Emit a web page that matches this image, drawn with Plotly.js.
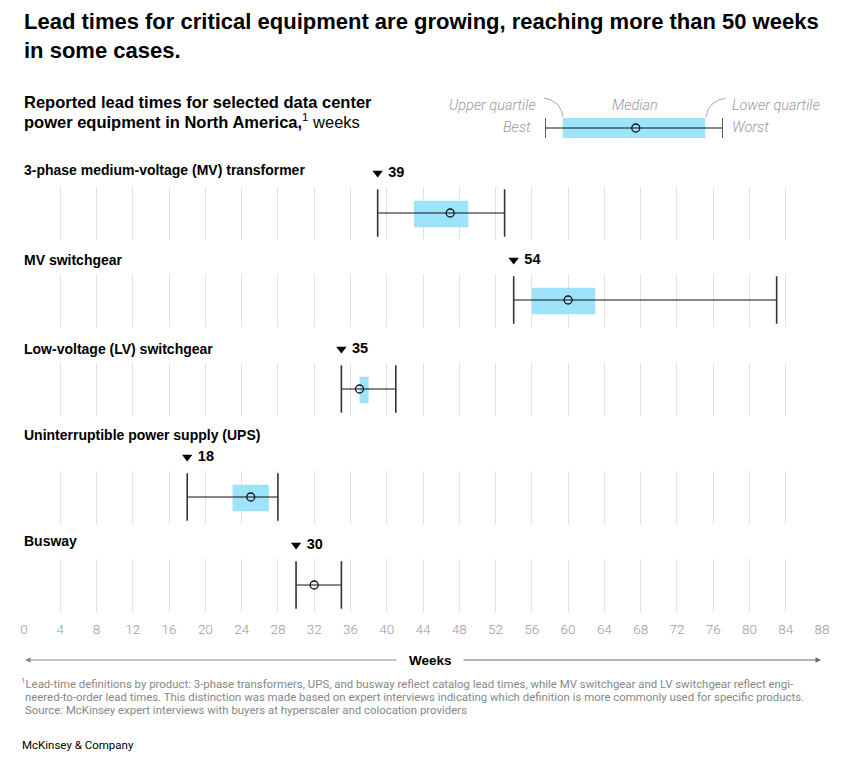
<!DOCTYPE html>
<html>
<head>
<meta charset="utf-8">
<script src="https://cdn.plot.ly/plotly-3.0.1.min.js"></script>
<style>
  html, body { margin: 0; padding: 0; background: #ffffff; }
  #chart { width: 844px; height: 768px; }
</style>
</head>
<body>
<div id="chart"></div>
<script>
// Lead-time distributions, in weeks, for each equipment type
const categories = [
  '3-phase medium-voltage (MV) transformer',
  'MV switchgear',
  'Low-voltage (LV) switchgear',
  'Uninterruptible power supply (UPS)',
  'Busway'
];
const best          = [39, 54, 35, 18, 30];
const upperQuartile = [43, 56, 37, 23, null];
const median        = [47, 60, 37, 25, 32];
const lowerQuartile = [49, 63, 38, 27, null];
const worst         = [53, 83, 41, 28, 35];

// Week axis ticks
const weekTicks = [0, 4, 8, 12, 16, 20, 24, 28, 32, 36, 40, 44, 48, 52, 56, 60, 64, 68, 72, 76, 80, 84, 88];

// Key sample: best, upper quartile, median, lower quartile, worst (relative units)
const keySample = [0, 0.1, 0.51, 0.9, 1];

const W = 844, H = 768, ML = 24, MR = 22;
const PW = W - ML - MR;
const py = p => 1 - p / H;             // pixel row -> paper y
const px = x => (x - ML) / PW;          // pixel column -> paper x

const BLUE = '#9DE4FB';
const GRID = '#e3e3e3';
const TXT = 'Liberation Sans, Arial, sans-serif';
const LIGHT = 'Roboto, Liberation Sans, sans-serif';

// vertical centre of each row's strip and of its label, in pixels
const rowCenter = [212, 299, 388, 496, 584];
const rowLabelY = [170, 260, 349, 435, 541];
const HALF = 26.5;

const traces = [];
const layout = {
  width: W, height: H,
  margin: {l: ML, r: MR, t: 0, b: 0},
  paper_bgcolor: '#ffffff',
  plot_bgcolor: 'rgba(0,0,0,0)',
  showlegend: false,
  hovermode: false,
  annotations: [],
  shapes: []
};

const nRows = categories.length;
categories.forEach((name, i) => {
  const n = i + 1;
  const xa = n === 1 ? 'x' : 'x' + n;
  const ya = n === 1 ? 'y' : 'y' + n;
  const xKey = n === 1 ? 'xaxis' : 'xaxis' + n;
  const yKey = n === 1 ? 'yaxis' : 'yaxis' + n;
  const last = i === nRows - 1;
  const c = rowCenter[i];

  layout[xKey] = {
    domain: [0, 1], anchor: ya, range: [0, 88],
    tickvals: weekTicks, ticktext: weekTicks.map(String),
    showticklabels: last, ticks: '',
    tickfont: {family: LIGHT, size: 13.5, color: '#9a9a9a', weight: 300},
    ticklabelstandoff: 8,
    showgrid: true, gridcolor: GRID, gridwidth: 1,
    zeroline: false, showline: false, fixedrange: true
  };
  if (n > 1) layout[xKey].matches = 'x';
  layout[yKey] = {
    domain: [py(c + HALF + 1), py(c - HALF + 1)], anchor: xa,
    range: [-1, 1], visible: false, fixedrange: true
  };

  // interquartile box
  if (upperQuartile[i] !== null) {
    traces.push({
      type: 'bar', orientation: 'h', xaxis: xa, yaxis: ya,
      base: [upperQuartile[i]], x: [lowerQuartile[i] - upperQuartile[i]], y: [-0.04],
      width: 1.0, marker: {color: BLUE, line: {width: 0}}, hoverinfo: 'skip'
    });
  }
  // whisker from best to worst
  traces.push({
    type: 'scatter', mode: 'lines', xaxis: xa, yaxis: ya,
    x: [best[i], worst[i]], y: [0, 0],
    line: {color: '#111111', width: 1.2}, hoverinfo: 'skip'
  });
  // end caps
  traces.push({
    type: 'scatter', mode: 'lines', xaxis: xa, yaxis: ya,
    x: [best[i], best[i], null, worst[i], worst[i]],
    y: [-0.9, 0.9, null, -0.9, 0.9],
    line: {color: '#333333', width: 1.6}, hoverinfo: 'skip'
  });
  // median
  traces.push({
    type: 'scatter', mode: 'markers', xaxis: xa, yaxis: ya,
    x: [median[i]], y: [0],
    marker: {symbol: 'circle-open', size: 8, color: '#111111', line: {width: 1.3}},
    hoverinfo: 'skip'
  });

  // best-case flag sits in its own thin strip above the row
  const fn = 6 + n;
  const fx = 'x' + fn, fy = 'y' + fn;
  layout['xaxis' + fn] = {domain: [0, 1], anchor: fy, matches: 'x', visible: false, showgrid: false, fixedrange: true};
  layout['yaxis' + fn] = {domain: [py(c - 31), py(c - 47)], anchor: fx, range: [-1, 1], visible: false, fixedrange: true};
  traces.push({
    type: 'scatter', mode: 'markers+text', xaxis: fx, yaxis: fy,
    x: [best[i]], y: [0], cliponaxis: false,
    marker: {symbol: 'triangle-down', size: 9, color: '#000000'},
    text: ['\u00a0' + best[i]], textposition: 'middle right',
    textfont: {family: TXT, size: 14.5, color: '#000000', weight: 'bold'},
    hoverinfo: 'skip'
  });

  layout.annotations.push({
    xref: 'paper', yref: 'paper', x: 0, xshift: -2, y: py(rowLabelY[i]),
    xanchor: 'left', yanchor: 'middle', showarrow: false,
    text: '<b>' + name + '</b>',
    font: {family: TXT, size: 14, color: '#000000'}
  });
});

// key explaining the marks
layout.xaxis6 = {domain: [px(545), px(723)], anchor: 'y6', range: [0, 1], visible: false, fixedrange: true};
layout.yaxis6 = {domain: [py(138), py(118)], anchor: 'x6', range: [-1, 1], visible: false, fixedrange: true};
traces.push({
  type: 'bar', orientation: 'h', xaxis: 'x6', yaxis: 'y6',
  base: [keySample[1]], x: [keySample[3] - keySample[1]], y: [0], width: 2,
  marker: {color: BLUE, line: {width: 0}}, hoverinfo: 'skip'
});
traces.push({
  type: 'scatter', mode: 'lines', xaxis: 'x6', yaxis: 'y6',
  x: [keySample[0], keySample[4]], y: [0, 0],
  line: {color: '#111111', width: 1.2}, hoverinfo: 'skip'
});
traces.push({
  type: 'scatter', mode: 'lines', xaxis: 'x6', yaxis: 'y6',
  x: [keySample[0], keySample[0], null, keySample[4], keySample[4]],
  y: [-1, 1, null, -1, 1],
  line: {color: '#333333', width: 1.6}, hoverinfo: 'skip'
});
traces.push({
  type: 'scatter', mode: 'markers', xaxis: 'x6', yaxis: 'y6',
  x: [keySample[2]], y: [0],
  marker: {symbol: 'circle-open', size: 8, color: '#111111', line: {width: 1.3}},
  hoverinfo: 'skip'
});

const keyFont = {family: LIGHT, size: 14.5, color: '#9a9a9a', style: 'italic', weight: 300};
[
  ['Upper quartile', 538, 105, 'right'],
  ['Median', 635, 105, 'center'],
  ['Lower quartile', 730, 105, 'left'],
  ['Best', 533, 128, 'right'],
  ['Worst', 730, 128, 'left']
].forEach(([t, x, y, a]) => {
  layout.annotations.push({
    xref: 'paper', yref: 'paper', x: px(x), y: py(y),
    xanchor: a, yanchor: 'middle', showarrow: false, text: t, font: keyFont
  });
});
// leader curves from the quartile labels to the box corners
layout.shapes.push({
  type: 'path', xref: 'paper', yref: 'paper',
  path: `M ${px(544)} ${py(98)} Q ${px(561)} ${py(101)} ${px(563)} ${py(117)}`,
  line: {color: '#a8a8a8', width: 1}
});
layout.shapes.push({
  type: 'path', xref: 'paper', yref: 'paper',
  path: `M ${px(726)} ${py(98)} Q ${px(708)} ${py(101)} ${px(706)} ${py(117)}`,
  line: {color: '#a8a8a8', width: 1}
});

// headline
layout.annotations.push({
  xref: 'paper', yref: 'paper', x: 0, xshift: -2, y: py(7),
  xanchor: 'left', yanchor: 'top', align: 'left', showarrow: false,
  text: '<b>Lead times for critical equipment are growing, reaching more than 50 weeks<br>in some cases.</b>',
  font: {family: TXT, size: 22, color: '#000000'}
});

// subtitle, one annotation per line
[
  ['<b>Reported lead times for selected data center</b>', 102],
  ['<b>power equipment in North America,</b><sup>1</sup> weeks', 121]
].forEach(([t, y]) => {
  layout.annotations.push({
    xref: 'paper', yref: 'paper', x: 0, xshift: -2, y: py(y),
    xanchor: 'left', yanchor: 'middle', showarrow: false, text: t,
    font: {family: TXT, size: 16.5, color: '#000000'}
  });
});

// axis name with arrows
layout.annotations.push({
  xref: 'paper', yref: 'paper', x: px(430), y: py(660),
  xanchor: 'center', yanchor: 'middle', showarrow: false,
  text: '<b>Weeks</b>', font: {family: TXT, size: 13.5, color: '#000000'}
});
layout.annotations.push({
  xref: 'paper', yref: 'paper', x: px(25), y: py(660), ax: 373, ay: 0,
  text: '', showarrow: true, arrowhead: 2, arrowsize: 1.1, arrowwidth: 1, arrowcolor: '#8a8a8a',
  standoff: 0, startstandoff: 0
});
layout.annotations.push({
  xref: 'paper', yref: 'paper', x: px(821), y: py(660), ax: -359, ay: 0,
  text: '', showarrow: true, arrowhead: 2, arrowsize: 1.1, arrowwidth: 1, arrowcolor: '#6a6a6a',
  standoff: 0, startstandoff: 0
});

// footnote and source
const noteFont = {family: LIGHT, size: 11.4, color: '#878787', weight: 400};
[
  ['<sup>1</sup>Lead-time definitions by product: 3-phase transformers, UPS, and busway reflect catalog lead times, while MV switchgear and LV switchgear reflect engi-', 19, 683],
  ['neered-to-order lead times. This distinction was made based on expert interviews indicating which definition is more commonly used for specific products.', 23, 697],
  ['Source: McKinsey expert interviews with buyers at hyperscaler and colocation providers', 23, 710]
].forEach(([t, x, y]) => {
  layout.annotations.push({
    xref: 'paper', yref: 'paper', x: px(x), y: py(y),
    xanchor: 'left', yanchor: 'middle', showarrow: false, font: noteFont, text: t
  });
});
layout.annotations.push({
  xref: 'paper', yref: 'paper', x: px(20), y: py(745),
  xanchor: 'left', yanchor: 'middle', showarrow: false,
  text: 'McKinsey &amp; Company', font: {family: LIGHT, size: 11.5, color: '#000000', weight: 400}
});

Plotly.newPlot('chart', traces, layout, {staticPlot: true, displayModeBar: false});
</script>
</body>
</html>
